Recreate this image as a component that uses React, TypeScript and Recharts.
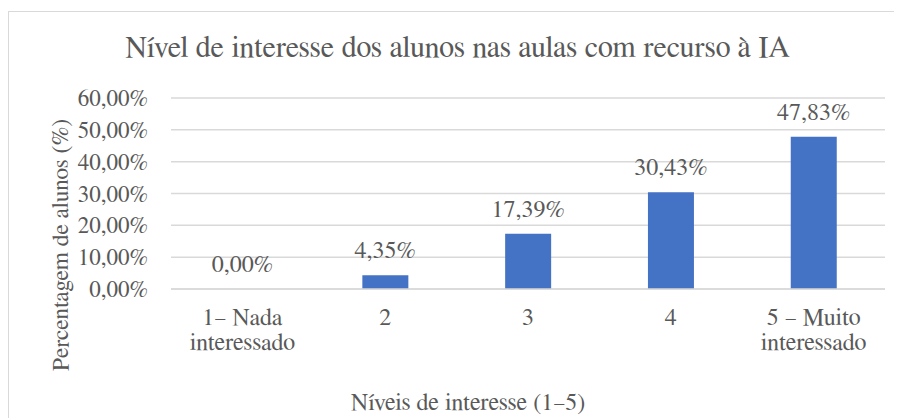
import { ComposedChart, Bar, Line, XAxis, YAxis, CartesianGrid, LabelList } from "recharts";

const niveis = ["1– Nada\ninteressado", "2", "3", "4", "5 – Muito\ninteressado"];
const percentagens = [0, 4.35, 17.39, 30.43, 47.83];
const yTicks = [0, 10, 20, 30, 40, 50, 60];

const data = niveis.map((nivel, i) => ({ nivel, valor: percentagens[i] }));

const FONT = 'FreeSerif, "Liberation Serif", "Times New Roman", serif';
const TEXT = "#595959";
const GRID = "#d9d9d9";

const fmt = (v: number) => v.toFixed(2).replace(".", ",") + "%";

const XTick = ({ x, y, payload }: any) => {
  const lines = String(payload.value).split("\n");
  return (
    <text x={x} y={y + 36} textAnchor="middle" fill={TEXT} fontSize={24} fontFamily={FONT}>
      {lines.map((l, i) => (
        <tspan key={i} x={x} dy={i === 0 ? 0 : 25}>
          {l}
        </tspan>
      ))}
    </text>
  );
};

export default function App() {
  return (
    <div
      style={{
        position: "relative",
        marginTop: 3,
        width: 900,
        height: 420,
        borderTop: `1px solid ${GRID}`,
        borderLeft: `1px solid ${GRID}`,
        fontFamily: FONT,
      }}
    >
      <div
        style={{
          position: "absolute",
          top: 18,
          left: 0,
          width: 897,
          textAlign: "center",
          fontSize: 30,
          lineHeight: "36px",
          color: TEXT,
        }}
      >
        Nível de interesse dos alunos nas aulas com recurso à IA
      </div>
      <ComposedChart
        width={894}
        height={420}
        data={data}
        margin={{ top: 86, right: 18, left: 0, bottom: 83 }}
        barCategoryGap="34%"
      >
        <CartesianGrid vertical={false} stroke={GRID} strokeWidth={1.5} />
        <XAxis
          dataKey="nivel"
          height={60}
          tickLine={false}
          tickSize={0}
          tickMargin={0}
          axisLine={{ stroke: GRID, strokeWidth: 1.5 }}
          tick={<XTick />}
          interval={0}
          label={({ viewBox }: any) => (
            <text
              x={459}
              y={viewBox.y + 121}
              textAnchor="middle"
              fill={TEXT}
              fontSize={24}
              fontFamily={FONT}
            >
              Níveis de interesse (1–5)
            </text>
          )}
        />
        <YAxis
          width={162}
          domain={[0, 60]}
          ticks={yTicks}
          interval={0}
          tickFormatter={fmt}
          tickLine={false}
          tickSize={0}
          tickMargin={23}
          axisLine={false}
          tick={{ fill: TEXT, fontSize: 23, fontFamily: FONT }}
          label={() => (
            <text
              x={54}
              y={233}
              transform="rotate(-90 54 233)"
              textAnchor="middle"
              dominantBaseline="middle"
              fill={TEXT}
              fontSize={23.5}
              fontFamily={FONT}
            >
              Percentagem de alunos (%)
            </text>
          )}
        />
        <Bar dataKey="valor" fill="#4472C4" isAnimationActive={false} />
        <Line
          dataKey="valor"
          stroke="none"
          dot={false}
          activeDot={false}
          legendType="none"
          isAnimationActive={false}
        >
          <LabelList
            dataKey="valor"
            position="top"
            offset={17}
            formatter={(v: any) => fmt(Number(v))}
            fill={TEXT}
            fontSize={24}
            fontFamily={FONT}
          />
        </Line>
      </ComposedChart>
    </div>
  );
}
